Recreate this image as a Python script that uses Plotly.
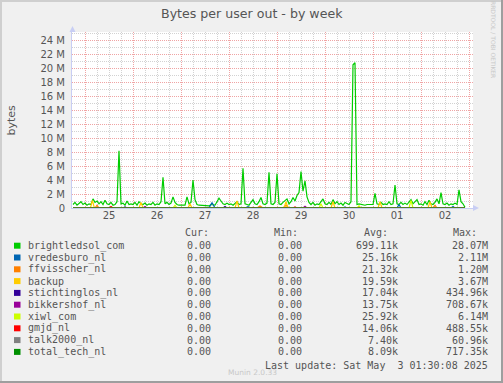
import plotly.graph_objects as go

# ---------------- data (values in M bytes, x in hours since Apr 25 00:00) ----------------
start_hour = -6
brightledsol_com = [
    0.5, 0.8, 0.4, 0.6, 0.9, 0.5,
    0.7, 0.4, 0.6, 0.5, 1.3, 0.8, 1.0, 0.6, 0.9, 0.5, 1.1, 0.6, 0.5, 0.8, 0.4, 0.5, 0.9, 8.2, 0.6, 0.7, 0.4, 1.0, 0.5, 0.6,
    0.5, 0.8, 0.4, 0.9, 0.6, 0.5, 0.7, 0.4, 0.6, 0.5, 0.8, 0.4, 0.6, 0.5, 0.9, 4.4, 0.6, 0.8, 0.5, 0.7, 1.6, 0.8, 0.5, 0.4,
    0.4, 0.5, 0.4, 1.6, 0.6, 0.8, 4.0, 1.2, 0.5, 0.4, 0.4, 0.3, 0.4, 0.4, 0.3, 0.5, 0.4, 0.4, 0.9, 1.4, 1.0, 0.6, 0.5, 0.7,
    0.5, 0.6, 0.4, 0.7, 0.9, 0.5, 0.6, 5.7, 0.6, 0.5, 0.4, 0.8, 1.2, 0.6, 0.5, 0.9, 1.5, 0.6, 0.5, 0.7, 5.1, 0.6, 0.5, 0.8,
    4.9, 0.6, 0.5, 0.8, 1.0, 1.3, 0.6, 0.9, 1.5, 1.0, 1.8, 2.2, 5.2, 2.4, 3.9, 1.6, 0.8, 0.5, 0.8, 0.4, 0.6, 0.5, 0.9, 1.3,
    0.6, 0.5, 0.8, 0.5, 1.2, 0.6, 0.9, 0.5, 0.7, 0.4, 0.8, 0.6, 0.5, 0.9, 20.5, 20.8, 0.5, 0.6, 0.5, 0.5, 0.4, 0.5, 0.5, 0.4,
    0.5, 2.1, 0.6, 0.5, 0.8, 0.5, 0.6, 0.5, 0.9, 0.5, 0.6, 3.3, 0.6, 0.5, 0.8, 0.5, 0.7, 0.5, 0.8, 1.2, 0.6, 0.9, 1.2, 0.5,
    0.6, 0.4, 0.9, 0.5, 1.1, 0.6, 0.5, 0.8, 1.3, 0.6, 2.2, 0.6, 0.5, 0.7, 0.4, 0.6, 0.5, 0.7, 0.5, 2.6, 0.9, 0.6, 0.1,
]
brightledsol_hours = [start_hour + i for i in range(len(brightledsol_com))]

vredesburo_x = [-6, 62, 63.5, 65, 80, 81.5, 83, 129, 130, 131, 156, 157, 158, 183, 184, 185, 190]
vredesburo_y = [0, 0, 0.8, 0, 0, 0.2, 0, 0, 0.15, 0, 0, 0.5, 0, 0, 0.2, 0, 0]
ffvisscher_x = [-6, 5, 6, 7, 86, 87.5, 89, 99, 100.5, 102, 174, 175, 176, 190]
ffvisscher_y = [0, 0, 0.4, 0, 0, 0.3, 0, 0, 0.4, 0, 0, 0.4, 0, 0]
backup_x = [-6, 2.7, 3.7, 4.7, 27, 28, 29, 51.5, 52.5, 53.5, 75, 76, 77, 99.5, 100.5, 101.5,
            123, 124, 125, 146.5, 147.5, 148.5, 171.5, 172.5, 173.5, 190]
backup_y = [0, 0, 1.1, 0, 0, 0.8, 0, 0, 0.6, 0, 0, 1.0, 0, 0, 0.9, 0,
            0, 0.9, 0, 0, 0.9, 0, 0, 0.9, 0, 0]
stichtinglos_x = [-6, 19, 20, 21, 69, 70, 71, 190]
stichtinglos_y = [0, 0, 0.15, 0, 0, 0.2, 0, 0]
bikkershof_x = [-6, 29, 30, 31, 109, 110, 111, 190]
bikkershof_y = [0, 0, 0.2, 0, 0, 0.25, 0, 0]
xiwl_x = [-6, 44, 45, 46, 117, 118, 119, 136, 137, 138, 162, 163, 164, 190]
xiwl_y = [0, 0, 0.4, 0, 0, 0.6, 0, 0, 0.3, 0, 0, 1.1, 0, 0]
gmjd_x = [-6, 12, 13, 14, 83, 84, 85, 104, 105, 106, 190]
gmjd_y = [0, 0, 0.2, 0, 0, 0.1, 0, 0, 0.15, 0, 0]
talk2000_x = [-6, 140, 141, 142, 190]
talk2000_y = [0, 0, 0.05, 0, 0]
total_tech_x = [-6, 58, 59, 60, 190]
total_tech_y = [0, 0, 0.1, 0, 0]

series_names = ["brightledsol_com", "vredesburo_nl", "ffvisscher_nl", "backup", "stichtinglos_nl",
                "bikkershof_nl", "xiwl_com", "gmjd_nl", "talk2000_nl", "total_tech_nl"]
series_colors = ["#00CC00", "#0066B3", "#FF8000", "#FFCC00", "#330099",
                 "#990099", "#CCFF00", "#FF0000", "#808080", "#008F00"]
cur_vals = ["0.00"] * 10
min_vals = ["0.00"] * 10
avg_vals = ["699.11k", "25.16k", "21.32k", "19.59k", "17.04k", "13.75k", "25.92k", "14.06k", "7.40k", "8.09k"]
max_vals = ["28.07M", "2.11M", "1.20M", "3.67M", "434.96k", "708.67k", "6.14M", "488.55k", "60.96k", "717.35k"]

y_tick_vals = [0, 2, 4, 6, 8, 10, 12, 14, 16, 18, 20, 22, 24]
y_tick_text = ["0", "2 M", "4 M", "6 M", "8 M", "10 M", "12 M", "14 M", "16 M", "18 M", "20 M", "22 M", "24 M"]
day_midnights = [0, 24, 48, 72, 96, 120, 144, 168, 192]
day_label_pos = [12, 36, 60, 84, 108, 132, 156, 180]
day_labels = ["25", "26", "27", "28", "29", "30", "01", "02"]

title_text = "Bytes per user out - by week"
last_update = "Last update: Sat May\u00a0\u00a03 01:30:08 2025"

# ---------------- layout geometry ----------------
FW, FH = 503, 383
L, R, T, B = 72, 473, 32, 208
W, H = R - L, B - T


def fx(px):
    return (px - L) / W


def fy(py):
    return (B - py) / H


FONT = "DejaVu Sans"
MONO = "DejaVu Sans Mono"
TXT = "#555555"
MAJOR = "#F0A4A4"
MINOR = "#D2D2D2"
AXIS = "#C8CEF4"

fig = go.Figure()

minor_xy = [
    (vredesburo_x, vredesburo_y), (ffvisscher_x, ffvisscher_y), (backup_x, backup_y),
    (stichtinglos_x, stichtinglos_y), (bikkershof_x, bikkershof_y), (xiwl_x, xiwl_y),
    (gmjd_x, gmjd_y), (talk2000_x, talk2000_y), (total_tech_x, total_tech_y),
]
fig.add_trace(go.Scatter(x=brightledsol_hours, y=brightledsol_com, mode="lines",
                         line=dict(color=series_colors[0], width=1.2), hoverinfo="skip"))
for (xs, ys), c in zip(minor_xy, series_colors[1:]):
    fig.add_trace(go.Scatter(x=xs, y=ys, mode="lines", line=dict(color=c, width=1.2), hoverinfo="skip"))
# dummy trace for the label axis
fig.add_trace(go.Scatter(x=[], y=[], xaxis="x2", hoverinfo="skip"))

xr = [(L - 85) / 2, (R - 85) / 2]
fig.update_layout(
    width=FW, height=FH, showlegend=False,
    margin=dict(l=L, r=FW - R, t=T, b=FH - B, pad=0),
    paper_bgcolor="#F0F0F0", plot_bgcolor="#FFFFFF",
    xaxis=dict(range=xr, tickmode="array", tickvals=day_midnights, showticklabels=False,
               showgrid=True, gridcolor=MAJOR, griddash="1px,1px", gridwidth=1,
               minor=dict(tickmode="linear", tick0=0, dtick=6, showgrid=True, gridcolor=MINOR,
                          griddash="1px,1px", gridwidth=1),
               zeroline=False, showline=True, linecolor=AXIS, linewidth=1, ticks=""),
    xaxis2=dict(range=xr, overlaying="x", anchor="y", side="bottom", tickmode="array",
                tickvals=day_label_pos, ticktext=day_labels, showgrid=False, zeroline=False,
                showline=False, ticks="", tickfont=dict(family=FONT, size=10, color=TXT)),
    yaxis=dict(range=[0, H / 6.984], tickmode="array", tickvals=y_tick_vals, ticktext=y_tick_text,
               showgrid=True, gridcolor=MAJOR, griddash="1px,1px", gridwidth=1,
               minor=dict(tickmode="linear", tick0=0, dtick=1, showgrid=True, gridcolor=MINOR,
                          griddash="1px,1px", gridwidth=1),
               zeroline=False, showline=True, linecolor=AXIS, linewidth=1, ticks="",
               ticklabelstandoff=4, tickfont=dict(family=FONT, size=10, color=TXT)),
)

ann = []
shapes = []
# title
ann.append(dict(text=title_text, x=fx(251.5), y=fy(14), xref="paper", yref="paper",
                showarrow=False, xanchor="center", yanchor="middle",
                font=dict(family=FONT, size=12.6, color=TXT)))
# y label
ann.append(dict(text="bytes", x=fx(11), y=fy(120.5), xref="paper", yref="paper", textangle=-90,
                showarrow=False, xanchor="center", yanchor="middle",
                font=dict(family=FONT, size=11, color=TXT)))
# rrdtool credit
ann.append(dict(text="RRDTOOL / TOBI OETIKER", x=fx(494), y=fy(39), xref="paper", yref="paper",
                textangle=90, showarrow=False, xanchor="center", yanchor="middle",
                font=dict(family=FONT, size=6, color="#C8C8C8")))
# legend header
for lab, xl in zip(["Cur:", "Min:", "Avg:", "Max:"], [183, 272, 362, 451]):
    ann.append(dict(text=lab, x=fx(xl), y=fy(232.5), xref="paper", yref="paper", showarrow=False,
                    xanchor="left", yanchor="middle", font=dict(family=MONO, size=10, color=TXT)))
row_y0, row_dy = 245.7, 11.8
for i, name in enumerate(series_names):
    yy = row_y0 + i * row_dy
    shapes.append(dict(type="rect", xref="paper", yref="paper", x0=fx(14), x1=fx(20.5),
                       y0=fy(yy + 3), y1=fy(yy - 3), fillcolor=series_colors[i], line=dict(width=0)))
    ann.append(dict(text=name, x=fx(26), y=fy(yy), xref="paper", yref="paper", showarrow=False,
                    xanchor="left", yanchor="middle", font=dict(family=MONO, size=10, color=TXT)))
    for val, xr_ in zip([cur_vals[i], min_vals[i], avg_vals[i], max_vals[i]], [212.5, 303.5, 399.5, 489.5]):
        ann.append(dict(text=val, x=fx(xr_), y=fy(yy), xref="paper", yref="paper", showarrow=False,
                        xanchor="right", yanchor="middle", font=dict(family=MONO, size=10, color=TXT)))
ann.append(dict(text=last_update, x=fx(489.5), y=fy(365), xref="paper", yref="paper", showarrow=False,
                xanchor="right", yanchor="middle", font=dict(family=MONO, size=10, color=TXT)))
ann.append(dict(text="Munin 2.0.33", x=fx(252), y=fy(372.5), xref="paper", yref="paper", showarrow=False,
                xanchor="center", yanchor="middle", font=dict(family=FONT, size=7.5, color="#C8C8C8")))

# axis arrows
shapes.append(dict(type="path", xref="paper", yref="paper",
                   path=f"M {fx(69.5)},{fy(32)} L {fx(72.5)},{fy(26)} L {fx(75.5)},{fy(32)} Z",
                   fillcolor=AXIS, line=dict(width=0)))
shapes.append(dict(type="path", xref="paper", yref="paper",
                   path=f"M {fx(473)},{fy(205)} L {fx(479)},{fy(208)} L {fx(473)},{fy(211)} Z",
                   fillcolor=AXIS, line=dict(width=0)))
# border shading
shapes.append(dict(type="rect", xref="paper", yref="paper", x0=fx(0), x1=fx(FW), y0=fy(2), y1=fy(0),
                   fillcolor="#CFCFCF", line=dict(width=0)))
shapes.append(dict(type="rect", xref="paper", yref="paper", x0=fx(0), x1=fx(2), y0=fy(FH), y1=fy(0),
                   fillcolor="#CFCFCF", line=dict(width=0)))
shapes.append(dict(type="rect", xref="paper", yref="paper", x0=fx(0), x1=fx(FW), y0=fy(FH), y1=fy(FH - 2),
                   fillcolor="#9E9E9E", line=dict(width=0)))
shapes.append(dict(type="rect", xref="paper", yref="paper", x0=fx(FW - 2), x1=fx(FW), y0=fy(FH), y1=fy(0),
                   fillcolor="#9E9E9E", line=dict(width=0)))

fig.update_layout(annotations=ann, shapes=shapes)
fig.write_html("out.html")
